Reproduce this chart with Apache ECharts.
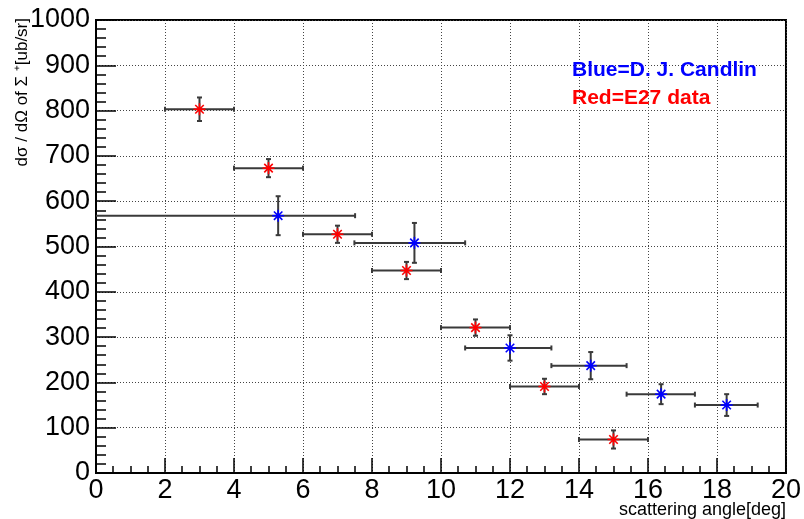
<!DOCTYPE html>
<html>
<head>
<meta charset="utf-8">
<script src="https://cdn.jsdelivr.net/npm/echarts@6/dist/echarts.min.js"></script>
<style>html,body{margin:0;padding:0;background:#fff}#c{width:804px;height:519px}</style>
</head>
<body>
<div id="c"></div>
<script>
// E27 data (red)
const redX = [3, 5, 7, 9, 11, 13, 15];
const redY = [803, 673, 527, 447, 321, 191, 74];
const redXLow = [2, 4, 6, 8, 10, 12, 14];
const redXHigh = [4, 6, 8, 10, 12, 14, 16];
const redYErr = [26, 20, 19, 19, 18, 17, 20];

// D. J. Candlin (blue)
const blueX = [5.28, 9.23, 12.0, 14.34, 16.38, 18.28];
const blueY = [568, 508, 276, 237, 174, 150];
const blueXLow = [-1, 7.49, 10.7, 13.2, 15.38, 17.36];
const blueXHigh = [7.51, 10.7, 13.2, 15.38, 17.36, 19.18];
const blueYErr = [43, 44, 28, 30, 22, 24];

const xTicks = [0, 2, 4, 6, 8, 10, 12, 14, 16, 18, 20];
const yTicks = [0, 100, 200, 300, 400, 500, 600, 700, 800, 900, 1000];

function buildData(xs, ys, xl, xh, ye) {
  return xs.map((x, i) => [x, ys[i], xl[i], xh[i], ys[i] - ye[i], ys[i] + ye[i]]);
}

function makeRender(color) {
  return function (params, api) {
    const x = api.value(0), y = api.value(1);
    const c = api.coord([x, y]);
    const pl = api.coord([api.value(2), y]);
    const ph = api.coord([api.value(3), y]);
    const pb = api.coord([x, api.value(4)]);
    const pt = api.coord([x, api.value(5)]);
    const es = { stroke: '#3a3a3a', lineWidth: 2 };
    const cap = 2.5;
    const kids = [
      { type: 'line', shape: { x1: pl[0], y1: c[1], x2: ph[0], y2: c[1] }, style: es },
      { type: 'line', shape: { x1: pl[0], y1: c[1] - cap, x2: pl[0], y2: c[1] + cap }, style: es },
      { type: 'line', shape: { x1: ph[0], y1: c[1] - cap, x2: ph[0], y2: c[1] + cap }, style: es },
      { type: 'line', shape: { x1: c[0], y1: pb[1], x2: c[0], y2: pt[1] }, style: es },
      { type: 'line', shape: { x1: c[0] - cap, y1: pb[1], x2: c[0] + cap, y2: pb[1] }, style: es },
      { type: 'line', shape: { x1: c[0] - cap, y1: pt[1], x2: c[0] + cap, y2: pt[1] }, style: es }
    ];
    const r = 6, d = r * 0.7071;
    const ss = { stroke: color, lineWidth: 1.6 };
    kids.push(
      { type: 'line', shape: { x1: c[0] - r, y1: c[1], x2: c[0] + r, y2: c[1] }, style: ss },
      { type: 'line', shape: { x1: c[0], y1: c[1] - r, x2: c[0], y2: c[1] + r }, style: ss },
      { type: 'line', shape: { x1: c[0] - d, y1: c[1] - d, x2: c[0] + d, y2: c[1] + d }, style: ss },
      { type: 'line', shape: { x1: c[0] - d, y1: c[1] + d, x2: c[0] + d, y2: c[1] - d }, style: ss },
      { type: 'circle', shape: { cx: c[0], cy: c[1], r: 2.2 }, style: { fill: color } }
    );
    return { type: 'group', children: kids };
  };
}

const chart = echarts.init(document.getElementById('c'), null, { renderer: 'canvas' });
const axisFont = 'Liberation Sans, Arial, Helvetica, sans-serif';
chart.setOption({
  animation: false,
  backgroundColor: '#fff',
  grid: { left: 96, top: 20, right: 18, bottom: 46, show: true, borderColor: '#000', borderWidth: 2, backgroundColor: 'transparent' },
  xAxis: {
    type: 'value', min: xTicks[0], max: xTicks[xTicks.length - 1], interval: 2,
    axisLine: { show: true, onZero: false, lineStyle: { color: '#000', width: 2 } },
    axisTick: { show: true, inside: true, length: 15, lineStyle: { color: '#000', width: 1.5 } },
    minorTick: { show: true, splitNumber: 4, length: 7, lineStyle: { color: '#000', width: 1.5 } },
    axisLabel: { fontSize: 27, color: '#000', margin: 4, fontFamily: axisFont, showMinLabel: true, showMaxLabel: true,
      formatter: v => String(v) },
    splitLine: { show: true, lineStyle: { color: '#444', width: 1, type: [1, 2] } }
  },
  yAxis: {
    type: 'value', min: yTicks[0], max: yTicks[yTicks.length - 1], interval: 100,
    axisLine: { show: true, onZero: false, lineStyle: { color: '#000', width: 2 } },
    axisTick: { show: true, inside: true, length: 20, lineStyle: { color: '#000', width: 1.5 } },
    minorTick: { show: true, splitNumber: 5, length: 10, lineStyle: { color: '#000', width: 1.5 } },
    axisLabel: { fontSize: 27, color: '#000', margin: 6, fontFamily: axisFont, formatter: v => String(v) },
    splitLine: { show: true, lineStyle: { color: '#444', width: 1, type: [1, 2] } }
  },
  graphic: [
    { type: 'text', x: 22, y: 18, rotation: Math.PI / 2, z: 10,
      style: { text: 'dσ / dΩ of Σ ⁺[ub/sr]', fontSize: 17, fontFamily: axisFont, fill: '#000', align: 'right', verticalAlign: 'middle' } },
    { type: 'text', x: 786, y: 510, z: 10,
      style: { text: 'scattering angle[deg]', fontSize: 18, fontFamily: axisFont, fill: '#000', align: 'right', verticalAlign: 'middle' } },
    { type: 'text', x: 572, y: 70, z: 10,
      style: { text: 'Blue=D. J. Candlin', fontSize: 21, fontWeight: 'bold', fontFamily: axisFont, fill: '#0000ff', align: 'left', verticalAlign: 'middle' } },
    { type: 'text', x: 572, y: 98, z: 10,
      style: { text: 'Red=E27 data', fontSize: 21, fontWeight: 'bold', fontFamily: axisFont, fill: '#ff0000', align: 'left', verticalAlign: 'middle' } }
  ],
  series: [
    { type: 'custom', name: 'Blue', clip: true, renderItem: makeRender('#0000ff'),
      encode: { x: 0, y: 1 }, data: buildData(blueX, blueY, blueXLow, blueXHigh, blueYErr) },
    { type: 'custom', name: 'Red', clip: true, renderItem: makeRender('#ff0000'),
      encode: { x: 0, y: 1 }, data: buildData(redX, redY, redXLow, redXHigh, redYErr) }
  ]
});
</script>
</body>
</html>
